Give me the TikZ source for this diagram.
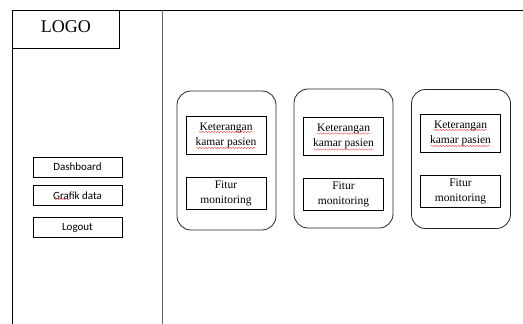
\documentclass[tikz,border=0pt]{standalone}
\usetikzlibrary{decorations.pathmorphing}
\usepackage{fontspec}
\setmainfont{Liberation Serif}
\newfontfamily\btnfont{Carlito}
\usepackage{xcolor}

\begin{document}
\begin{tikzpicture}[x=1pt,y=-1pt,line width=0.8pt,
  menubtn/.style={draw,minimum width=89pt,minimum height=20pt,inner sep=0pt,font=\btnfont\fontsize{11}{13}\selectfont},
  card/.style={draw=black!85,rounded corners=14pt,minimum width=99pt,minimum height=139pt,inner sep=0pt},
  infobox/.style={draw,minimum width=80pt,inner sep=0pt,align=center,font=\fontsize{11.5}{15}\selectfont},
  squiggle/.style={red!70,line width=0.4pt,decorate,decoration={snake,segment length=3pt,amplitude=0.7pt}}]
\useasboundingbox (0,0) rectangle (523,324);
% frame and sidebar
\draw (523,10) -- (12,10) -- (12,324);
\draw[black!60,line width=1.4pt] (162.5,10) -- (162.5,324);
\node[draw,anchor=north west,minimum width=107pt,minimum height=38pt,inner sep=0pt,
  font=\fontsize{18}{20}\selectfont,text height=16pt,text depth=10pt] (logo) at (12,10) {LOGO};
% menu
\node[menubtn] (dash) at (77.5,167) {Dashboard};
\node[menubtn] (graf) at (77.5,195.5) {Grafik data};
\node[menubtn] (logout) at (77.5,227.5) {Logout};
\draw[squiggle] ([xshift=-24pt,yshift=-3.5pt]graf.center) -- ([xshift=-8pt,yshift=-3.5pt]graf.center);
% room cards
\foreach \i/\cx/\cy/\kx/\ky/\fy in {1/226.5/160.5/226/135/193,
                                    2/343.5/158.5/343.5/136.5/194.5,
                                    3/461/159/460.5/133/191.5} {
  \node[card] (card\i) at (\cx,\cy) {};
  \node[infobox,minimum height=38pt] (ket\i) at (\kx,\ky) {Keterangan\\kamar pasien};
  \node[infobox,minimum height=32pt] (fitur\i) at (\kx,\fy) {Fitur\\monitoring};
  \draw[squiggle] ([xshift=-27pt,yshift=3pt]ket\i.center) -- ([xshift=27pt,yshift=3pt]ket\i.center);
  \draw[squiggle] ([xshift=-30pt,yshift=-13pt]ket\i.center) -- ([xshift=30pt,yshift=-13pt]ket\i.center);
}
\end{tikzpicture}
\end{document}
